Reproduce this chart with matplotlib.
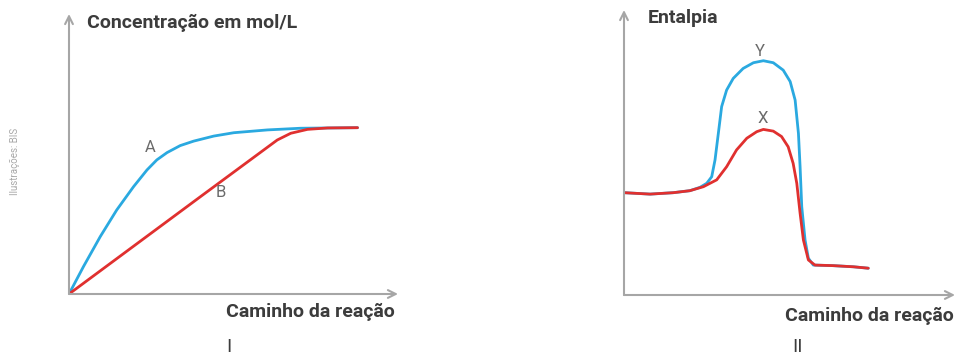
import numpy as np
import matplotlib
matplotlib.use("Agg")
import matplotlib.pyplot as plt

# painel I - concentracao x caminho da reacao
a_x = [0, 0.44, 0.95, 1.45, 1.96, 2.37, 2.67, 2.98, 3.38, 3.79, 4.40, 5.01, 6.03, 7.04, 8.77]
a_y = [0, 0.98, 2.05, 3.0, 3.83, 4.43, 4.79, 5.05, 5.30, 5.46, 5.64, 5.76, 5.86, 5.92, 5.94]
b_x = [0, 2.0, 4.0, 6.33, 6.74, 7.25, 7.86, 8.77]
b_y = [0, 1.74, 3.48, 5.5, 5.74, 5.88, 5.93, 5.94]

# painel II - entalpia x caminho da reacao
y_x = [0, 0.79, 1.49, 1.99, 2.30, 2.50, 2.65, 2.75, 2.85, 2.95, 3.10, 3.30, 3.60, 3.91,
       4.21, 4.51, 4.81, 5.02, 5.17, 5.27, 5.32, 5.37, 5.47, 5.57, 5.72, 6.32, 6.93, 7.38]
y_y = [3.59, 3.54, 3.59, 3.66, 3.78, 3.92, 4.15, 4.74, 5.67, 6.61, 7.19, 7.60, 7.95, 8.15,
       8.22, 8.15, 7.89, 7.49, 6.84, 5.67, 4.50, 3.10, 1.93, 1.29, 1.05, 1.03, 0.99, 0.94]
x_x = [0, 0.79, 1.49, 1.99, 2.40, 2.80, 3.10, 3.40, 3.71, 4.01, 4.21, 4.51, 4.76, 4.96,
       5.11, 5.22, 5.32, 5.42, 5.57, 5.77, 6.32, 6.93, 7.38]
x_y = [3.59, 3.54, 3.59, 3.66, 3.80, 4.04, 4.50, 5.09, 5.50, 5.73, 5.81, 5.75, 5.56, 5.20,
       4.62, 3.92, 2.87, 1.93, 1.23, 1.05, 1.03, 0.99, 0.94]

W, H = 955, 355
BLUE = "#2aa9e0"
RED = "#e0302f"
AXC = "#a6a6a6"
TXT = "#3c3c3c"
LBL = "#6a6a6a"
FONT = "Roboto"

fig = plt.figure(figsize=(W / 100, H / 100), dpi=100)


def px(x, y):
    return x / W, 1 - y / H


def make_axes(x0, y0, x1, y1):
    # x0,y0 = origem (pixels), x1 = fim do eixo x, y1 = topo do eixo y
    ax = fig.add_axes([x0 / W, 1 - y0 / H, (x1 - x0) / W, (y0 - y1) / H])
    ax.set_xlim(0, 10)
    ax.set_ylim(0, 10)
    ax.axis("off")
    arrow = dict(arrowstyle="->", color=AXC, lw=1.5, shrinkA=0, shrinkB=0,
                 mutation_scale=14)
    ax.annotate("", xy=(10, 0), xytext=(0, 0), arrowprops=arrow, annotation_clip=False)
    ax.annotate("", xy=(0, 10), xytext=(0, 0), arrowprops=arrow, annotation_clip=False)
    return ax


style = dict(lw=2, solid_joinstyle="round", solid_capstyle="round")

ax1 = make_axes(69, 294, 398, 14)
ax1.plot(a_x, a_y, color=BLUE, **style)
ax1.plot(b_x, b_y, color=RED, **style)
ax1.text(2.47, 5.25, "A", color=LBL, fontsize=12, ha="center", va="center", family=FONT)
ax1.text(4.6, 3.64, "B", color=LBL, fontsize=12, ha="center", va="center", family=FONT)

ax2 = make_axes(624, 295, 955, 10)
ax2.plot(y_x, y_y, color=BLUE, **style)
ax2.plot(x_x, x_y, color=RED, **style)
ax2.text(4.11, 8.53, "Y", color=LBL, fontsize=12, ha="center", va="center", family=FONT)
ax2.text(4.2, 6.21, "X", color=LBL, fontsize=12, ha="center", va="center", family=FONT)

fig.text(*px(87, 23), "Concentração em mol/L", color=TXT, fontsize=14,
         fontweight="bold", ha="left", va="center", family=FONT)
fig.text(*px(395, 312), "Caminho da reação", color=TXT, fontsize=14,
         fontweight="bold", ha="right", va="center", family=FONT)
fig.text(*px(648, 18), "Entalpia", color=TXT, fontsize=14,
         fontweight="bold", ha="left", va="center", family=FONT)
fig.text(*px(954, 316), "Caminho da reação", color=TXT, fontsize=14,
         fontweight="bold", ha="right", va="center", family=FONT)
fig.text(*px(229, 347), "I", color=TXT, fontsize=14, ha="center", va="center", family=FONT)
fig.text(*px(797, 347), "II", color=TXT, fontsize=14, ha="center", va="center", family=FONT)
fig.text(*px(15, 161), "Ilustrações: BIS", color="#a8a8a8", fontsize=7,
         rotation=90, ha="center", va="center", family=FONT)

fig.savefig("out.png", dpi=100, facecolor="white")
